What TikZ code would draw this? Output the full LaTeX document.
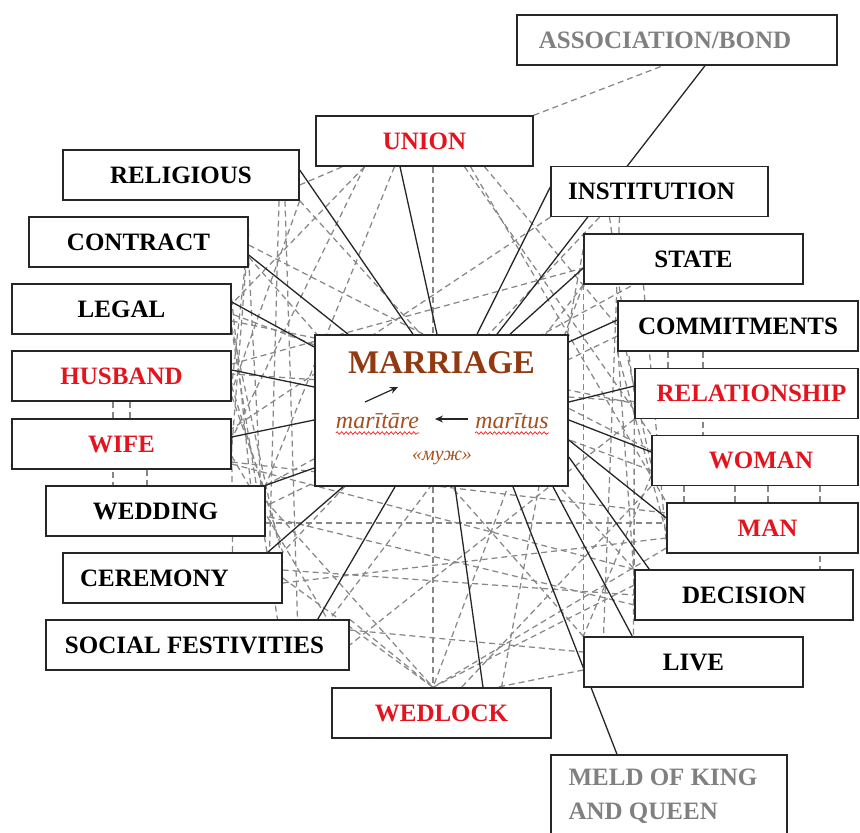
\documentclass[tikz,border=0pt]{standalone}
\usepackage{fontspec}
\setmainfont{Liberation Serif}
\usetikzlibrary{calc,arrows.meta,decorations.pathmorphing}
\definecolor{lblred}{RGB}{228,20,30}
\definecolor{lblgray}{RGB}{128,128,128}
\definecolor{brownA}{RGB}{145,58,18}
\definecolor{brownB}{RGB}{165,80,30}
\definecolor{dashgray}{RGB}{135,135,135}
\pgfdeclarelayer{dashes}
\pgfdeclarelayer{solids}
\pgfsetlayers{dashes,solids,main}
\newcommand\dl[2]{\draw[dline] (#1) -- (#2);}
\begin{document}
\begin{tikzpicture}[x=1pt,y=-1pt,
  box/.style={draw=black!85, line width=1.4pt, fill=white, inner sep=0pt,
    minimum height=50pt, font=\bfseries\fontsize{25}{34}\selectfont},
  dline/.style={dashgray, line width=1.25pt, dash pattern=on 6pt off 4pt},
  sline/.style={black!85, line width=1.3pt},
  arr/.style={-{Stealth[length=8pt,width=7pt]}, line width=1.2pt, black!85}]
\useasboundingbox (0,0) rectangle (860,833);

% nodes
\node[box, minimum width=320pt, text=lblgray] (assoc) at (677,40) {\hspace*{-24pt}ASSOCIATION/BOND};
\node[box, minimum width=217pt, text=lblred] (union) at (424.5,141) {UNION};
\node[box, minimum width=236pt] (religious) at (181,175) {RELIGIOUS};
\node[box, minimum width=217pt] (institution) at (659.5,191.5) {\hspace*{-16pt}INSTITUTION};
\node[box, minimum width=219pt] (contract) at (138.5,242) {CONTRACT};
\node[box, minimum width=219pt] (state) at (693.5,259) {STATE};
\node[box, minimum width=219pt] (legal) at (121.5,309) {LEGAL};
\node[box, minimum width=240pt] (commitments) at (738,326) {COMMITMENTS};
\node[box, minimum width=219pt, text=lblred] (husband) at (121.5,376) {HUSBAND};
\node[box, minimum width=223pt, text=lblred] (relationship) at (746.5,393.5) {\hspace*{10pt}RELATIONSHIP};
\node[box, minimum width=219pt, text=lblred] (wife) at (121.5,444) {WIFE};
\node[box, minimum width=206pt, text=lblred] (woman) at (755,460.5) {\hspace*{12pt}WOMAN};
\node[box, minimum width=219pt] (wedding) at (155.5,511) {WEDDING};
\node[box, minimum width=191pt, text=lblred] (man) at (762.5,528) {\hspace*{10pt}MAN};
\node[box, minimum width=219pt] (ceremony) at (172.5,578) {\hspace*{-36pt}CEREMONY};
\node[box, minimum width=218pt] (decision) at (744,595) {DECISION};
\node[box, minimum width=303pt] (social) at (197.5,645) {\hspace*{-6pt}SOCIAL FESTIVITIES};
\node[box, minimum width=219pt] (live) at (693.5,662) {LIVE};
\node[box, minimum width=219pt, text=lblred] (wedlock) at (441.5,713) {WEDLOCK};
\node[box, minimum width=236pt, minimum height=82pt, text=lblgray, align=left] (meld) at (669,796) {\hspace*{-12pt}MELD OF KING\\\hspace*{-12pt}AND QUEEN};

% central box
\node[box, minimum width=253pt, minimum height=151pt, line width=1.6pt] (mar) at (441.5,410.5) {};
\node[font=\bfseries\fontsize{33}{36}\selectfont, text=brownA, inner sep=0pt] (mtitle) at (441.5,362.5) {MARRIAGE};
\node[font=\itshape\fontsize{24}{26}\selectfont, text=brownB, inner sep=0pt, anchor=base] (mt) at (377.5,428) {marītāre};
\node[font=\itshape\fontsize{24}{26}\selectfont, text=brownB, inner sep=0pt, anchor=base] (ms) at (512,428) {marītus};
\node[font=\itshape\fontsize{20}{22}\selectfont, text=brownB, inner sep=0pt, anchor=base] (muzh) at (442,460) {«муж»};
\draw[red, line width=0.6pt, decorate, decoration={snake, amplitude=1.3pt, segment length=4.5pt}]
  ([yshift=-5pt]mt.base west) -- ([yshift=-5pt]mt.base east);
\draw[red, line width=0.6pt, decorate, decoration={snake, amplitude=1.3pt, segment length=4.5pt}]
  ([yshift=-5pt]ms.base west) -- ([yshift=-5pt]ms.base east);
\coordinate (a1s) at (365,402);
\coordinate (a1e) at (398,387);
\coordinate (a2s) at (468,419);
\coordinate (a2e) at (435,419);
\draw[arr] (a1s) -- (a1e);
\draw[arr] (a2s) -- (a2e);

% solid connectors
\begin{pgfonlayer}{solids}
\draw[sline] ($(religious.east)+(0,-5)$) -- ($(mar.north)+(-28.5,0)$);
\draw[sline] ($(union.south)+(-24.5,0)$) -- ($(mar.north)+(-4.5,0)$);
\draw[sline] ($(institution.west)+(0,-4.5)$) -- ($(mar.north)+(35.5,0)$);
\draw[sline] ($(assoc.south)+(28,0)$) -- ($(mar.north)+(55.5,0)$);
\draw[sline] ($(state.west)+(0,9)$) -- ($(mar.north)+(68.5,0)$);
\draw[sline] ($(contract.east)+(0,13)$) -- ($(mar.north)+(-93.5,0)$);
\draw[sline] ($(commitments.west)+(0,-6)$) -- ($(mar.east)+(0,-68.5)$);
\draw[sline] ($(legal.east)+(0,-7)$) -- ($(mar.west)+(0,-63.5)$);
\draw[sline] ($(husband.east)+(0,-6)$) -- ($(mar.west)+(0,-23.5)$);
\draw[sline] ($(relationship.west)+(0,-7.5)$) -- ($(mar.east)+(0,-8.5)$);
\draw[sline] ($(wife.east)+(0,-7)$) -- ($(mar.west)+(0,9.5)$);
\draw[sline] ($(woman.west)+(0,-8.5)$) -- ($(mar.east)+(0,9.5)$);
\draw[sline] (wedding.north east) -- ($(mar.west)+(0,57.5)$);
\draw[sline] ($(man.west)+(0,-10)$) -- ($(mar.east)+(0,29.5)$);
\draw[sline] ($(ceremony.north east)+(-15,0)$) -- ($(mar.south)+(-98.5,0)$);
\draw[sline] ($(decision.north west)+(15,0)$) -- ($(mar.east)+(0,46.5)$);
\draw[sline] ($(social.north east)+(-32,0)$) -- ($(mar.south)+(-46.5,0)$);
\draw[sline] ($(live.north west)+(49,0)$) -- ($(mar.south)+(111.5,0)$);
\draw[sline] ($(wedlock.north)+(41.5,0)$) -- ($(mar.south)+(13.5,0)$);
\draw[sline] ($(meld.north)+(-52,0)$) -- ($(mar.south)+(71.5,0)$);
\end{pgfonlayer}

% dashed web
\begin{pgfonlayer}{dashes}
\dl{union.north east}{$(assoc.south)+(-14,0)$}
\dl{$(union.south)+(8.5,0)$}{$(wedlock.north)+(-8.5,0)$}
\dl{$(union.south)+(40,0)$}{woman.north west}
\dl{$(union.south)+(46,0)$}{man.north west}
\dl{$(union.south)+(-60,0)$}{$(legal.east)+(0,-5)$}
\dl{$(religious.east)+(0,10)$}{$(union.south)+(-82,0)$}
\dl{$(union.south)+(-60,0)$}{$(wife.east)+(0,-5)$}
\dl{$(husband.east)+(0,-12)$}{$(state.west)+(0,9)$}
\dl{$(contract.east)+(0,3)$}{$(woman.west)+(0,-10)$}
\dl{$(religious.south)+(98,0)$}{$(ceremony.north)+(97,0)$}
\dl{$(religious.south)+(104,0)$}{$(social.north)+(100,0)$}
\dl{$(husband.south)+(-8.5,0)$}{$(wedding.north)+(-42.5,0)$}
\dl{$(husband.south)+(8.5,0)$}{$(wife.north)+(8.5,0)$}
\dl{$(wife.south)+(25.5,0)$}{$(wedding.north)+(-8.5,0)$}
\dl{$(legal.east)+(0,-10)$}{$(wedding.north east)+(-15,0)$}
\dl{$(contract.east)+(0,-8)$}{$(husband.east)+(0,10)$}
\dl{$(husband.east)+(0,10)$}{ceremony.north east}
\dl{$(wife.east)+(0,12)$}{$(social.north)+(130,0)$}
\dl{$(wedding.east)+(0,-10)$}{$(wedlock.north)+(-8.5,0)$}
\dl{ceremony.east}{$(wedlock.north)+(-8.5,0)$}
\dl{social.north east}{$(wedlock.north)+(-8.5,0)$}
\dl{$(wedding.east)+(0,12)$}{$(man.west)+(0,-5)$}
\dl{$(ceremony.east)+(0,-8)$}{decision.west}
\dl{$(social.east)+(0,-15)$}{$(live.west)+(0,-10)$}
\dl{$(legal.east)+(0,12)$}{$(relationship.west)+(0,10)$}
\dl{$(wife.east)+(0,18)$}{$(man.west)+(0,-15)$}
\dl{wedding.north east}{$(state.south)+(-60,0)$}
\dl{institution.south west}{$(wife.east)+(0,-15)$}
\dl{$(institution.south)+(-60,0)$}{ceremony.north east}
\dl{state.south west}{$(social.north east)+(-20,0)$}
\dl{$(commitments.west)+(0,10)$}{$(wedding.east)+(0,-5)$}
\dl{$(relationship.west)+(0,8)$}{$(husband.east)+(0,-2)$}
\dl{$(woman.west)+(0,10)$}{$(legal.east)+(0,5)$}
\dl{$(man.west)+(0,10)$}{$(ceremony.east)+(0,5)$}
\dl{$(decision.west)+(0,10)$}{$(wedding.east)+(0,5)$}
\dl{$(live.west)+(0,8)$}{$(wedlock.north)+(55,0)$}
\dl{$(decision.west)+(0,-10)$}{$(wedlock.north)+(-8.5,0)$}
\dl{$(man.west)+(0,20)$}{$(wedlock.north)+(-8.5,0)$}
\dl{woman.south west}{$(wedlock.north)+(20,0)$}
\dl{$(commitments.south)+(-70,0)$}{$(relationship.north)+(-78.5,0)$}
\dl{$(commitments.south)+(-35,0)$}{$(woman.north)+(-52,0)$}
\dl{$(woman.south)+(-71,0)$}{$(man.north)+(-78.5,0)$}
\dl{$(woman.south)+(-20,0)$}{$(man.north)+(-27.5,0)$}
\dl{$(woman.south)+(13,0)$}{$(man.north)+(5.5,0)$}
\dl{$(woman.south)+(65,0)$}{$(decision.north)+(76,0)$}
\dl{$(state.west)+(0,15)$}{live.north west}
\dl{$(relationship.west)+(0,15)$}{$(live.north)+(-60,0)$}
\dl{$(commitments.west)+(0,15)$}{$(decision.west)+(0,-15)$}
\dl{$(institution.south)+(-50,0)$}{relationship.west}
\dl{state.south west}{$(wedlock.north)+(-8.5,0)$}
\dl{religious.south east}{decision.north west}
\dl{$(contract.east)+(0,15)$}{live.north west}
\dl{$(union.south)+(-30,0)$}{wedding.north east}
\dl{$(union.south)+(60,0)$}{commitments.west}
\dl{relationship.south west}{social.east}
\dl{decision.north west}{$(wife.east)+(0,20)$}
% extra density near the left and right columns
\dl{$(contract.east)+(0,-12)$}{$(wife.east)+(0,5)$}
\dl{$(legal.east)+(0,18)$}{$(ceremony.east)+(0,-15)$}
\dl{religious.south east}{$(husband.east)+(0,15)$}
\dl{$(husband.east)+(0,20)$}{$(wedding.east)+(0,-18)$}
\dl{$(wife.east)+(0,2)$}{$(ceremony.north)+(60,0)$}
\dl{$(legal.east)+(0,20)$}{$(social.north)+(80,0)$}
\dl{$(contract.east)+(0,18)$}{$(wedding.north east)+(-5,0)$}
\dl{$(state.south)+(-50,0)$}{$(man.west)+(0,15)$}
\dl{$(commitments.west)+(0,-15)$}{$(woman.west)+(0,5)$}
\dl{$(relationship.west)+(0,-15)$}{$(decision.west)+(0,5)$}
\dl{$(institution.south)+(-40,0)$}{$(live.north)+(-90,0)$}
\dl{$(state.west)+(0,-10)$}{$(wedlock.north)+(60,0)$}
\dl{$(woman.west)+(0,15)$}{live.north west}
\dl{$(commitments.south west)$}{$(man.west)+(0,5)$}
\end{pgfonlayer}
\end{tikzpicture}
\end{document}
